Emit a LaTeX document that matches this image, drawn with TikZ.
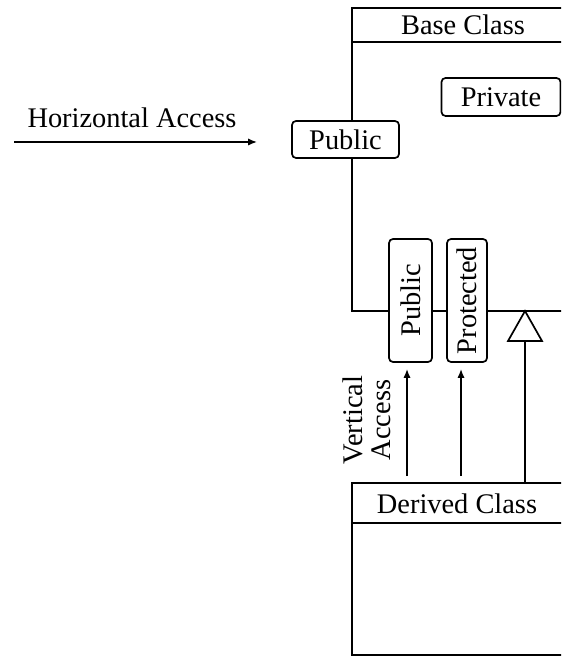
\documentclass[tikz,border=0pt]{standalone}
\usepackage{fontspec}
\setmainfont{Liberation Serif}
\usetikzlibrary{arrows.meta}

\begin{document}
\begin{tikzpicture}[x=0.5pt, y=-0.5pt, line width=0.85pt,
  font=\fontsize{14.2}{14}\selectfont,
  access/.style={draw, fill=white, rounded corners=2pt, inner sep=0pt},
  tip/.style={-{Latex[length=4.5pt, width=3.6pt]}}]
  \useasboundingbox (0,0) rectangle (561,656);
  \clip (0,0) rectangle (561,656);

  % base class frame, open to the right
  \draw (575,8) -- (352,8) -- (352,311) -- (575,311);
  \draw (352,42) -- (575,42);
  \node (base) at (463,25) {Base Class};
  \node[access, minimum width=59.5pt, minimum height=19pt] (priv) at (501,97) {Private};
  \node[access, minimum width=53.5pt, minimum height=18.5pt] (hpub) at (345.5,139.5) {Public};
  \node[access, rotate=90, minimum width=61.5pt, minimum height=21.5pt] (vpub) at (410.5,300.5) {Public};
  \node[access, rotate=90, minimum width=61.5pt, minimum height=20pt] (prot) at (467,300.5) {Protected};

  % inheritance triangle
  \coordinate (tri) at (525,341);
  \draw[fill=white] (525,311) -- (542,341) -- (508,341) -- cycle;

  % derived class frame
  \draw (575,483) -- (352,483) -- (352,655) -- (575,655);
  \draw (352,523) -- (575,523);
  \node[minimum height=20pt, inner sep=0pt, anchor=north] (derived) at (457,483) {Derived Class};

  \coordinate (hstart) at (14,142);
  \draw[tip, shorten >=17pt] (hstart) -- (hpub.west |- hstart);
  \node (hlabel) at (132,118) {Horizontal Access};

  \draw[tip, shorten <=3.5pt, shorten >=3pt] ([xshift=-1.75pt]vpub.west |- derived.north) -- ([xshift=-1.75pt]vpub.west);
  \draw[tip, shorten <=3.5pt, shorten >=3pt] ([xshift=-3pt]prot.west |- derived.north) -- ([xshift=-3pt]prot.west);
  \node[rotate=90, align=center] (vlabel) at (367,420) {Vertical\\Access};

  \draw (tri |- derived.north) -- (tri);
\end{tikzpicture}
\end{document}
